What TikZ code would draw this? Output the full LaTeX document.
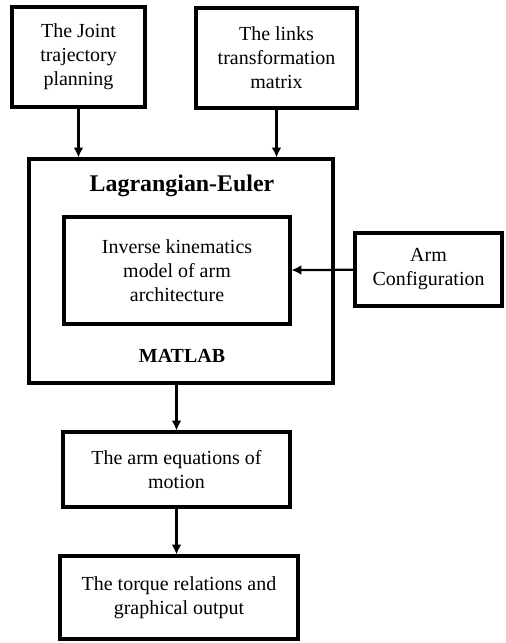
\documentclass[tikz,border=0pt]{standalone}
\usepackage{fontspec}
\setmainfont{Liberation Serif}
\usetikzlibrary{arrows.meta,positioning}

\begin{document}
\begin{tikzpicture}[
  box/.style={draw, line width=2.2pt, align=center, inner sep=2pt},
  arr/.style={-{Latex[length=7pt,width=7pt]}, line width=1.6pt},
  font=\fontsize{14.2}{17}\selectfont]
\useasboundingbox (0,0) rectangle (12.65,-16.075);

% inputs
\node[box, minimum width=3.325cm, minimum height=2.5cm] (joint) at (1.9625,-1.425) {The Joint\\trajectory\\planning};
\node[box, minimum width=4.025cm, minimum height=2.5cm] (links) at (6.9125,-1.45) {The links\\transformation\\matrix};

% solver block
\node[box, minimum width=7.6cm, minimum height=5.6cm] (lagr) at (4.525,-6.775) {};
\node[font=\fontsize{17}{20}\selectfont\bfseries] (lagrtitle) at (4.55,-4.65) {Lagrangian-Euler};
\node[box, minimum width=5.65cm, minimum height=2.675cm] (ik) at (4.425,-6.7625) {Inverse kinematics\\model of arm\\architecture};
\node[font=\fontsize{14.2}{17}\selectfont\bfseries] (matlab) at (4.55,-8.9) {MATLAB};
\node[box, minimum width=3.675cm, minimum height=1.825cm] (arm) at (10.7125,-6.7375) {Arm\\Configuration};

% outputs
\node[box, minimum width=5.675cm, minimum height=1.875cm] (eqm) at (4.4125,-11.7375) {The arm equations of\\motion};
\node[box, minimum width=5.95cm, minimum height=2.075cm] (torque) at (4.475,-14.9375) {The torque relations and\\graphical output};

\draw[arr] (joint) -- (joint |- lagr.north);
\draw[arr] (links) -- (links |- lagr.north);
\draw[arr] (arm) -- (ik);
\draw[arr] (eqm |- lagr.south) -- (eqm);
\draw[arr] (eqm) -- (eqm |- torque.north);

\end{tikzpicture}
\end{document}
